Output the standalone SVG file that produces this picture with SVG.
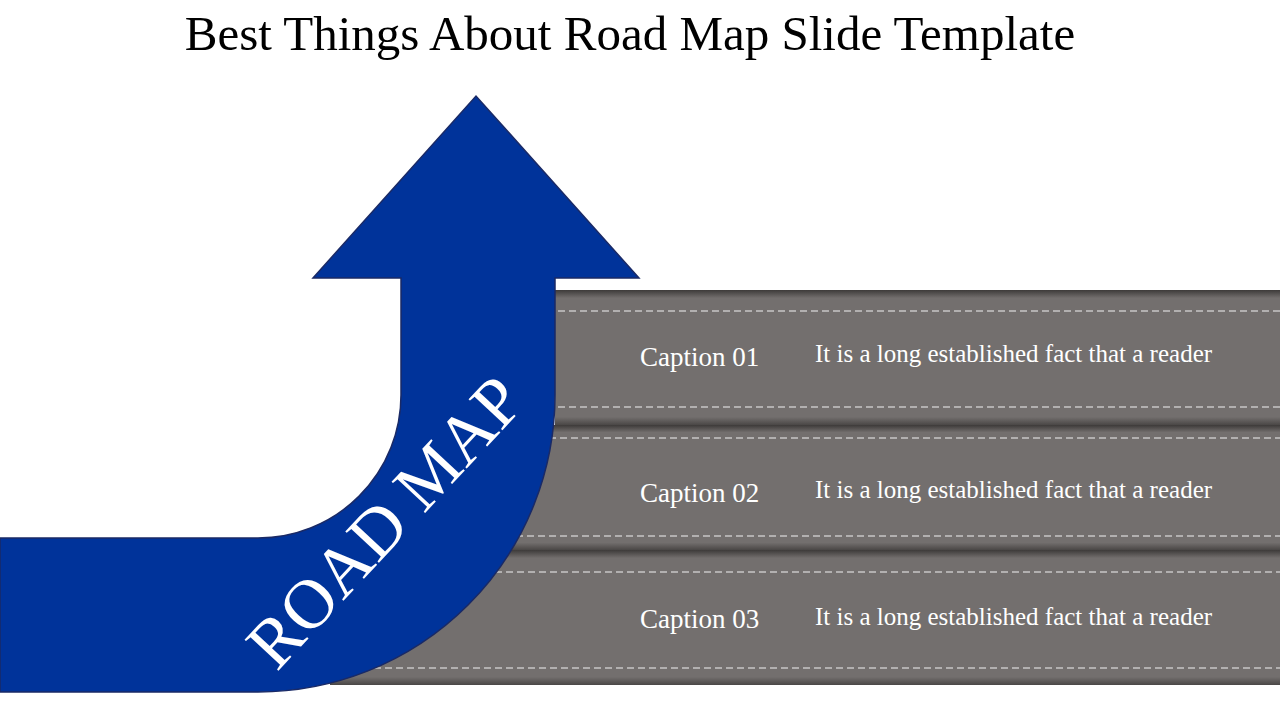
<svg xmlns="http://www.w3.org/2000/svg" width="1280" height="720" viewBox="0 0 1280 720">
<defs>
<style>
.band{fill:#736f6e}
.dash{stroke:#f2f2f2;stroke-width:1;stroke-dasharray:7 4;fill:none}
.cap{font-family:"Liberation Serif",serif;font-size:27px;fill:#fff}
.desc{font-family:"Liberation Serif",serif;font-size:25px;fill:#fff}
</style>
<linearGradient id="edge" x1="0" y1="0" x2="0" y2="1">
<stop offset="0" stop-color="#3d3a39"/><stop offset="0.06" stop-color="#736f6e"/><stop offset="0.94" stop-color="#736f6e"/><stop offset="1" stop-color="#4a4746"/>
</linearGradient>
</defs>
<rect width="1280" height="720" fill="#fff"/>
<text x="630" y="50" text-anchor="middle" font-family="Liberation Serif,serif" font-size="49">Best Things About Road Map Slide Template</text>
<g id="band1"><rect x="555" y="290" width="725" height="135" fill="url(#edge)"/>
<line class="dash" x1="558" y1="311" x2="1280" y2="311"/><line class="dash" x1="558" y1="407" x2="1280" y2="407"/>
<text class="cap" x="640" y="366">Caption 01</text><text class="desc" x="815" y="362">It is a long established fact that a reader</text></g>
<g id="band2"><rect x="505" y="425" width="775" height="125" fill="url(#edge)"/>
<line class="dash" x1="505" y1="438" x2="1280" y2="438"/><line class="dash" x1="505" y1="536" x2="1280" y2="536"/>
<text class="cap" x="640" y="502">Caption 02</text><text class="desc" x="815" y="498">It is a long established fact that a reader</text></g>
<g id="band3"><rect x="330" y="550" width="950" height="135" fill="url(#edge)"/>
<line class="dash" x1="330" y1="572" x2="1280" y2="572"/><line class="dash" x1="330" y1="668" x2="1280" y2="668"/>
<text class="cap" x="640" y="628">Caption 03</text><text class="desc" x="815" y="625">It is a long established fact that a reader</text></g>
<g id="arrow">
<path d="M0 538 L258 538 A143 143 0 0 0 401 395 L401 278 L313 278 L476 96 L639 278 L555 278 L555 395 A297 297 0 0 1 258 692 L0 692 Z" fill="#00339a" stroke="#1a2a66" stroke-width="1.5"/>
<text x="0" y="0" transform="translate(402,538) rotate(-47)" text-anchor="middle" font-family="Liberation Serif,serif" font-size="70" fill="#fff">ROAD MAP</text>
</g>
</svg>
